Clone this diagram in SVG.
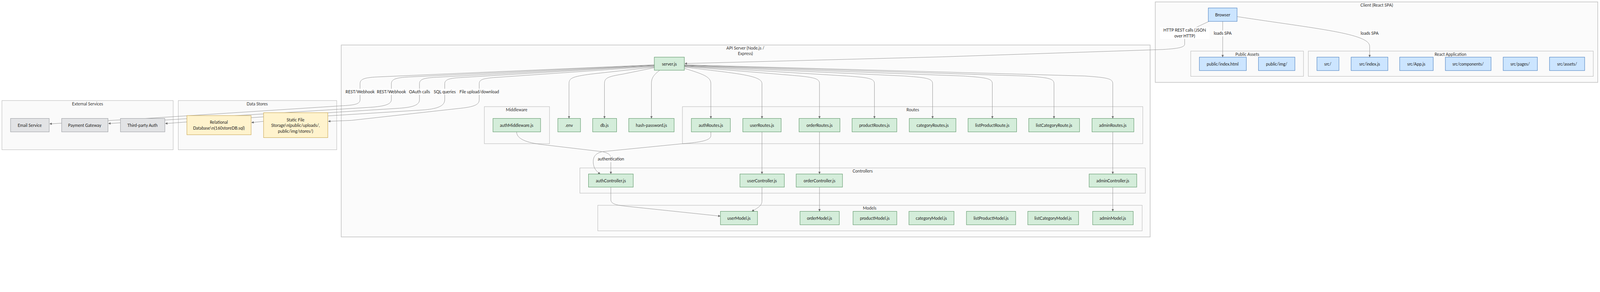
<svg xmlns="http://www.w3.org/2000/svg" width="5008" height="748" viewBox="0 0 5008 748" style="width:100%;height:100%" preserveAspectRatio="xMidYMin meet">
<style>
text{font-family:Lato,"Open Sans","DejaVu Sans",sans-serif;font-size:13px;fill:#222;text-anchor:middle;dominant-baseline:central}
.ct{fill:#333}
.cl{fill:#fafafa;stroke:#b4b4b4;stroke-width:1.2}
.clo{fill:#fbfbfb;stroke:#c4c4c4;stroke-width:2}
.g rect{fill:#d4edda;stroke:#5b9566;stroke-width:1.3}
.b rect{fill:#cce5ff;stroke:#4a7fbf;stroke-width:1.3}
.x rect{fill:#e2e3e5;stroke:#9a9da1;stroke-width:1.3}
.y rect{fill:#fff3cd;stroke:#c9a752;stroke-width:1.3}
.e{fill:none;stroke:#8a8a8a;stroke-width:1.1}
.lb{fill:#ffffff;opacity:0.9}
</style>
<defs>
<marker id="arr" viewBox="0 0 10 10" refX="10" refY="5" markerWidth="8" markerHeight="7" orient="auto" markerUnits="userSpaceOnUse"><path d="M0,0 L10,5 L0,10 z" fill="#666"/></marker>
</defs>
<rect width="5008" height="748" fill="#ffffff"/>

<g id="clusters">
<g id="cl-client"><rect class="clo" x="3616" y="6" width="1385" height="252"/><text class="ct" x="4309" y="16">Client (React SPA)</text></g>
<g id="cl-public"><rect class="cl" x="3727" y="160" width="353" height="79"/><text class="ct" x="3904" y="170">Public Assets</text></g>
<g id="cl-react"><rect class="cl" x="4095" y="160" width="892" height="79"/><text class="ct" x="4540" y="170">React Application</text></g>
<g id="cl-external"><rect class="cl" x="6" y="315" width="536" height="154"/><text class="ct" x="274" y="325">External Services</text></g>
<g id="cl-data"><rect class="cl" x="558" y="315" width="496" height="154"/><text class="ct" x="805" y="325">Data Stores</text></g>
<g id="cl-api"><rect class="clo" x="1068" y="141" width="2532" height="601"/><text class="ct" x="2333" y="150">API Server (Node.js /</text><text class="ct" x="2333" y="168">Express)</text></g>
<g id="cl-middleware"><rect class="cl" x="1516" y="334" width="204" height="116"/><text class="ct" x="1617" y="343">Middleware</text></g>
<g id="cl-routes"><rect class="cl" x="2136" y="334" width="1441" height="116"/><text class="ct" x="2857" y="343">Routes</text></g>
<g id="cl-controllers"><rect class="cl" x="1815" y="526" width="1770" height="79"/><text class="ct" x="2700" y="535">Controllers</text></g>
<g id="cl-models"><rect class="cl" x="1871" y="643" width="1704" height="80"/><text class="ct" x="2722" y="652">Models</text></g>
</g>

<g id="connectors">
<path class="e" marker-end="url(#arr)" d="M2048,203 L1180,241 C1140,243 1127,248 1127,262 L1127,312 C1127,326 1110,329 1075,331 L456,371 L155,388"/>
<path class="e" marker-end="url(#arr)" d="M2048,204 L1280,241 C1240,243 1225,248 1225,262 L1225,312 C1225,328 1200,333 1160,336 L516,376 L339,387"/>
<path class="e" marker-end="url(#arr)" d="M2048,205 L1365,242 C1325,244 1313,249 1313,262 L1313,312 C1313,330 1290,336 1250,339 L825,366 L585,382 L517,387"/>
<path class="e" marker-end="url(#arr)" d="M2048,206 L1440,243 C1405,245 1392,250 1392,262 L1392,312 C1392,332 1370,340 1330,344 L1026,363 L825,380 L787,384"/>
<path class="e" marker-end="url(#arr)" d="M2048,208 L1545,243 C1510,246 1500,250 1500,262 L1500,312 C1500,328 1485,335 1433,340 L1100,377 L1027,380"/>
<path class="e" marker-end="url(#arr)" d="M2048,210 L1850,232 C1790,240 1781,245 1781,262 L1781,371"/>
<path class="e" marker-end="url(#arr)" d="M2048,212 L1950,232 C1900,240 1892,245 1892,262 L1892,371"/>
<path class="e" marker-end="url(#arr)" d="M2065,220 C2045,235 2039,245 2039,262 L2039,371"/>
<path class="e" marker-end="url(#arr)" d="M2142,214 C2200,232 2225,240 2225,262 L2225,371"/>
<path class="e" marker-end="url(#arr)" d="M2142,210 C2300,230 2385,235 2385,262 L2385,371"/>
<path class="e" marker-end="url(#arr)" d="M2142,208 L2480,236 C2550,242 2565,246 2565,262 L2565,371"/>
<path class="e" marker-end="url(#arr)" d="M2142,207 L2650,238 C2720,243 2737,246 2737,262 L2737,371"/>
<path class="e" marker-end="url(#arr)" d="M2142,206 L2830,238 C2900,243 2919,246 2919,262 L2919,371"/>
<path class="e" marker-end="url(#arr)" d="M2142,205 L3015,238 C3088,243 3106,246 3106,262 L3106,371"/>
<path class="e" marker-end="url(#arr)" d="M2142,204 L3210,238 C3282,243 3299,246 3299,262 L3299,371"/>
<path class="e" marker-end="url(#arr)" d="M2142,203 L3395,238 C3466,243 3483,246 3483,262 L3483,371"/>
<path class="e" marker-end="url(#arr)" d="M1617,413 C1617,432 1640,445 1690,452 L1885,475 C1905,479 1912,486 1912,495 L1912,545"/>
<path class="e" marker-end="url(#arr)" d="M2225,413 L2225,425 C2225,440 2190,446 2137,450 L1885,475 C1860,481 1856,495 1857,510 C1858,528 1868,538 1879,545"/>
<path class="e" marker-end="url(#arr)" d="M2385,413 L2385,545"/>
<path class="e" marker-end="url(#arr)" d="M2565,413 L2565,545"/>
<path class="e" marker-end="url(#arr)" d="M3483,413 L3483,545"/>
<path class="e" marker-end="url(#arr)" d="M1912,586 L1912,626 C1912,640 1935,643 1960,646 L2255,677"/>
<path class="e" marker-end="url(#arr)" d="M2385,586 L2385,630 C2385,645 2370,652 2353,662"/>
<path class="e" marker-end="url(#arr)" d="M2565,586 L2565,662"/>
<path class="e" marker-end="url(#arr)" d="M3483,586 L3483,662"/>
<path class="e" marker-end="url(#arr)" d="M3827,67 L3827,179"/>
<path class="e" marker-end="url(#arr)" d="M3872,52 C4120,90 4287,105 4287,145 L4287,179"/>
<path class="e" marker-end="url(#arr)" d="M3784,67 C3740,88 3708,100 3708,118 L3708,138 C3708,148 3690,152 3640,155 L2950,178 L2143,199"/>
<g id="edge-labels">
<rect class="lb" x="1084" y="278" width="85" height="19"/><text x="1127" y="287">REST/Webhook</text>
<rect class="lb" x="1183" y="278" width="84" height="19"/><text x="1225" y="287">REST/Webhook</text>
<rect class="lb" x="1281" y="278" width="64" height="19"/><text x="1313" y="287">OAuth calls</text>
<rect class="lb" x="1360" y="278" width="64" height="19"/><text x="1392" y="287">SQL queries</text>
<rect class="lb" x="1439" y="278" width="122" height="19"/><text x="1500" y="287">File upload/download</text>
<rect class="lb" x="1870" y="490" width="84" height="18"/><text x="1912" y="498">authentication</text>
<rect class="lb" x="3801" y="95" width="53" height="19"/><text x="3827" y="104">loads SPA</text>
<rect class="lb" x="4260" y="95" width="54" height="19"/><text x="4287" y="104">loads SPA</text>
<rect class="lb" x="3631" y="85" width="155" height="37"/><text x="3708" y="94">HTTP REST calls (JSON</text><text x="3708" y="113">over HTTP)</text>
</g>
</g>

<g id="nodes">
<g id="browser" class="b"><rect x="3782" y="25" width="90" height="42"/><text x="3827" y="46">Browser</text></g>
<g id="public-index" class="b"><rect x="3754" y="179" width="147" height="42"/><text x="3827" y="200">public/index.html</text></g>
<g id="public-img" class="b"><rect x="3939" y="179" width="114" height="42"/><text x="3996" y="200">public/img/</text></g>
<g id="src" class="b"><rect x="4122" y="179" width="69" height="42"/><text x="4156" y="200">src/</text></g>
<g id="src-index" class="b"><rect x="4229" y="179" width="115" height="42"/><text x="4287" y="200">src/index.js</text></g>
<g id="src-app" class="b"><rect x="4381" y="179" width="105" height="42"/><text x="4433" y="200">src/App.js</text></g>
<g id="src-components" class="b"><rect x="4524" y="179" width="143" height="42"/><text x="4595" y="200">src/components/</text></g>
<g id="src-pages" class="b"><rect x="4705" y="179" width="107" height="42"/><text x="4758" y="200">src/pages/</text></g>
<g id="src-assets" class="b"><rect x="4850" y="179" width="110" height="42"/><text x="4905" y="200">src/assets/</text></g>

<g id="email" class="x"><rect x="33" y="371" width="121" height="42"/><text x="93" y="392">Email Service</text></g>
<g id="payment" class="x"><rect x="193" y="371" width="145" height="42"/><text x="265" y="392">Payment Gateway</text></g>
<g id="thirdparty" class="x"><rect x="377" y="371" width="139" height="42"/><text x="446" y="392">Third-party Auth</text></g>

<g id="reldb" class="y"><rect x="585" y="362" width="201" height="60"/><text x="685" y="383">Relational</text><text x="685" y="401">Database\n(160storeDB.sql)</text></g>
<g id="static" class="y"><rect x="825" y="353" width="201" height="78"/><text x="925" y="375">Static File</text><text x="925" y="393">Storage\n(public/uploads/,</text><text x="925" y="411">public/img/stores/)</text></g>

<g id="server" class="g"><rect x="2048" y="179" width="94" height="41"/><text x="2095" y="200">server.js</text></g>
<g id="authMiddleware" class="g"><rect x="1543" y="371" width="149" height="42"/><text x="1617" y="392">authMiddleware.js</text></g>
<g id="env" class="g"><rect x="1746" y="371" width="71" height="42"/><text x="1781" y="392">.env</text></g>
<g id="dbjs" class="g"><rect x="1855" y="371" width="75" height="42"/><text x="1892" y="392">db.js</text></g>
<g id="hashpw" class="g"><rect x="1968" y="371" width="142" height="42"/><text x="2039" y="392">hash-password.js</text></g>
<g id="authRoutes" class="g"><rect x="2164" y="371" width="122" height="42"/><text x="2225" y="392">authRoutes.js</text></g>
<g id="userRoutes" class="g"><rect x="2325" y="371" width="120" height="42"/><text x="2385" y="392">userRoutes.js</text></g>
<g id="orderRoutes" class="g"><rect x="2501" y="371" width="128" height="42"/><text x="2565" y="392">orderRoutes.js</text></g>
<g id="productRoutes" class="g"><rect x="2667" y="371" width="140" height="42"/><text x="2737" y="392">productRoutes.js</text></g>
<g id="categoryRoutes" class="g"><rect x="2846" y="371" width="146" height="42"/><text x="2919" y="392">categoryRoutes.js</text></g>
<g id="listProductRoute" class="g"><rect x="3030" y="371" width="152" height="42"/><text x="3106" y="392">listProductRoute.js</text></g>
<g id="listCategoryRoute" class="g"><rect x="3220" y="371" width="159" height="42"/><text x="3299" y="392">listCategoryRoute.js</text></g>
<g id="adminRoutes" class="g"><rect x="3418" y="371" width="131" height="42"/><text x="3483" y="392">adminRoutes.js</text></g>

<g id="authController" class="g"><rect x="1842" y="545" width="140" height="41"/><text x="1912" y="566">authController.js</text></g>
<g id="userController" class="g"><rect x="2316" y="545" width="139" height="41"/><text x="2385" y="566">userController.js</text></g>
<g id="orderController" class="g"><rect x="2492" y="545" width="145" height="41"/><text x="2565" y="566">orderController.js</text></g>
<g id="adminController" class="g"><rect x="3409" y="545" width="149" height="41"/><text x="3483" y="566">adminController.js</text></g>

<g id="userModel" class="g"><rect x="2255" y="662" width="116" height="42"/><text x="2313" y="683">userModel.js</text></g>
<g id="orderModel" class="g"><rect x="2504" y="662" width="123" height="42"/><text x="2565" y="683">orderModel.js</text></g>
<g id="productModel" class="g"><rect x="2670" y="662" width="137" height="42"/><text x="2738" y="683">productModel.js</text></g>
<g id="categoryModel" class="g"><rect x="2845" y="662" width="141" height="42"/><text x="2915" y="683">categoryModel.js</text></g>
<g id="listProductModel" class="g"><rect x="3025" y="662" width="154" height="42"/><text x="3102" y="683">listProductModel.js</text></g>
<g id="listCategoryModel" class="g"><rect x="3217" y="662" width="159" height="42"/><text x="3296" y="683">listCategoryModel.js</text></g>
<g id="adminModel" class="g"><rect x="3420" y="662" width="127" height="42"/><text x="3483" y="683">adminModel.js</text></g>
</g>
</svg>
